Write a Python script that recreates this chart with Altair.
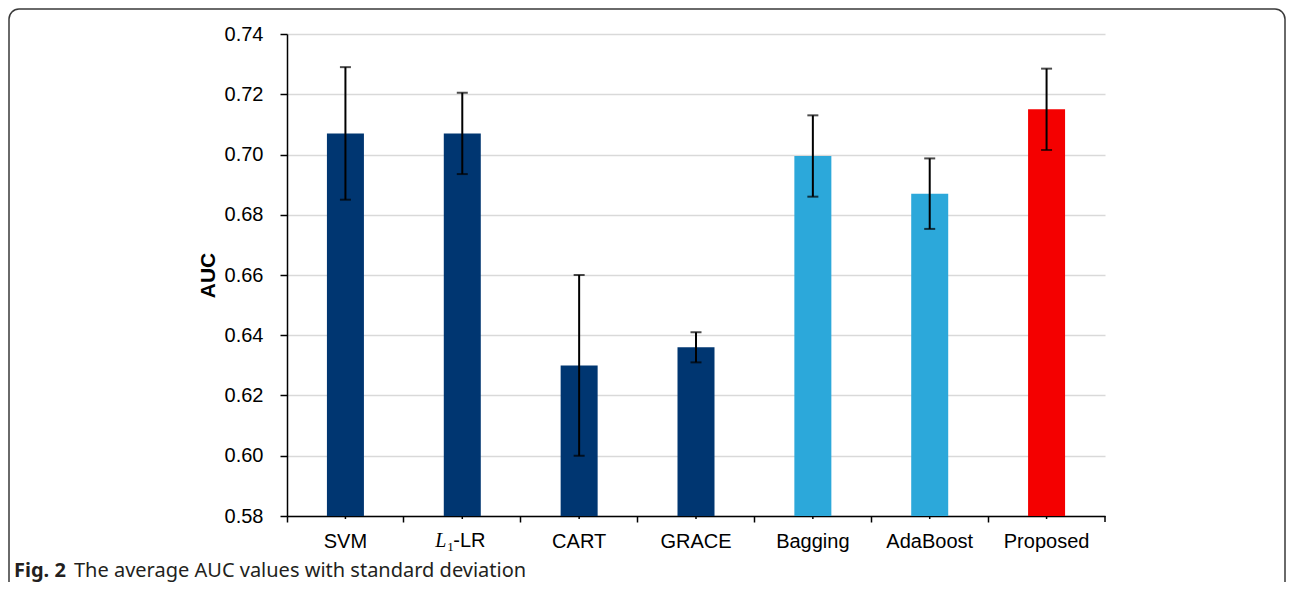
import altair as alt
import pandas as pd

# ---- data ----
methods = ["SVM", "L1-LR", "CART", "GRACE", "Bagging", "AdaBoost", "Proposed"]
auc = [0.707, 0.707, 0.630, 0.636, 0.6995, 0.687, 0.715]
sd = [0.022, 0.0135, 0.030, 0.005, 0.0135, 0.0117, 0.0135]
groups = ["single", "single", "single", "single", "ensemble", "ensemble", "proposed"]
group_names = ["single", "ensemble", "proposed"]
group_colors = ["#003671", "#2CA8DA", "#F40000"]
y_ticks = [0.58, 0.60, 0.62, 0.64, 0.66, 0.68, 0.70, 0.72, 0.74]
y_title = "AUC"
caption_bold = "Fig. 2"
caption_rest = "The average AUC values with standard deviation"

df = pd.DataFrame({"method": methods, "auc": auc, "sd": sd, "group": groups})
df["lo"] = df["auc"] - df["sd"]
df["hi"] = df["auc"] + df["sd"]

W, H = 818, 482
SANS = "Liberation Sans"
FS = 20

xscale = alt.Scale(domain=methods, paddingInner=0, paddingOuter=0)
yscale = alt.Scale(domain=[y_ticks[0], y_ticks[-1]], nice=False, zero=False)

xaxis = alt.Axis(
    title=None, labelAngle=0, bandPosition=0, ticks=True, tickSize=6,
    tickColor="black", tickWidth=1.5, domainColor="black", domainWidth=1.5,
    grid=False, labelFont=SANS, labelFontSize=FS, labelColor="black",
    labelPadding=9,
    labelExpr="datum.value == 'L1-LR' ? '' : datum.value",
)
yaxis = alt.Axis(
    title=y_title, titleFont=SANS, titleFontSize=21, titleFontWeight="bold",
    titleColor="black", titlePadding=6,
    values=y_ticks, format=".2f", labelFont=SANS, labelFontSize=FS,
    labelColor="black", labelPadding=17, tickSize=7, tickColor="black",
    tickWidth=1.5, domainColor="black", domainWidth=1.5,
    gridColor="#D9D9D9", gridWidth=1.5,
)

X = alt.X("method:N", scale=xscale, sort=methods, axis=xaxis)


def Yq(field):
    return alt.Y(f"{field}:Q", scale=yscale, axis=yaxis)


base = alt.Chart(df)

bars = base.mark_bar(size=37).encode(
    x=X, y=Yq("auc"), y2=alt.datum(y_ticks[0]),
    color=alt.Color("group:N", scale=alt.Scale(domain=group_names, range=group_colors), legend=None),
)
whisk = base.mark_rule(color="black", strokeWidth=2).encode(x=X, y=Yq("lo"), y2="hi:Q")
cap_lo = base.mark_tick(color="black", size=11, thickness=2).encode(x=X, y=Yq("lo"))
cap_hi = base.mark_tick(color="black", size=11, thickness=2).encode(x=X, y=Yq("hi"))

center_ticks = base.mark_rule(color="black", strokeWidth=1.5).encode(
    x=X, y=alt.value(H), y2=alt.value(H + 3)
)
one = alt.Chart(pd.DataFrame({"k": [0]}))
end_tick = one.mark_rule(color="black", strokeWidth=1.5).encode(
    x=alt.value(W), y=alt.value(H), y2=alt.value(H + 6)
)

l1 = base.transform_filter(alt.datum.method == "L1-LR")
lab_L = l1.mark_text(font="Liberation Serif", fontStyle="italic", fontSize=20,
                     align="left", baseline="alphabetic", dx=-27, color="black").encode(
    x=X, y=alt.value(H + 31), text=alt.value("L"))
lab_1 = l1.mark_text(font="Liberation Serif", fontSize=13,
                     align="left", baseline="alphabetic", dx=-15, color="black").encode(
    x=X, y=alt.value(H + 35), text=alt.value("1"))
lab_LR = l1.mark_text(font=SANS, fontSize=FS,
                      align="left", baseline="alphabetic", dx=-9, color="black").encode(
    x=X, y=alt.value(H + 31), text=alt.value("-LR"))

cap1 = one.mark_text(font="Noto Sans", fontWeight="bold", fontSize=20, align="left",
                     baseline="alphabetic", color="#231F20").encode(
    x=alt.value(-273), y=alt.value(543), text=alt.value(caption_bold))
cap2 = one.mark_text(font="Noto Sans", fontSize=20, align="left",
                     baseline="alphabetic", color="#231F20").encode(
    x=alt.value(-213), y=alt.value(543), text=alt.value(caption_rest))

frame = one.mark_rect(fillOpacity=0, stroke="#3A3A3A", strokeWidth=1.5, cornerRadius=10).encode(
    x=alt.value(-278), x2=alt.value(998), y=alt.value(-25), y2=alt.value(575))

chart = alt.layer(
    bars, whisk, cap_lo, cap_hi, center_ticks, end_tick,
    lab_L, lab_1, lab_LR, cap1, cap2, frame,
).properties(
    width=W, height=H,
    padding={"left": 279, "top": 26, "right": 182, "bottom": 66},
    autosize=alt.AutoSizeParams(type="none"),
).configure_view(stroke=None)

chart.save("out.html", embed_options={"renderer": "svg", "actions": False})
